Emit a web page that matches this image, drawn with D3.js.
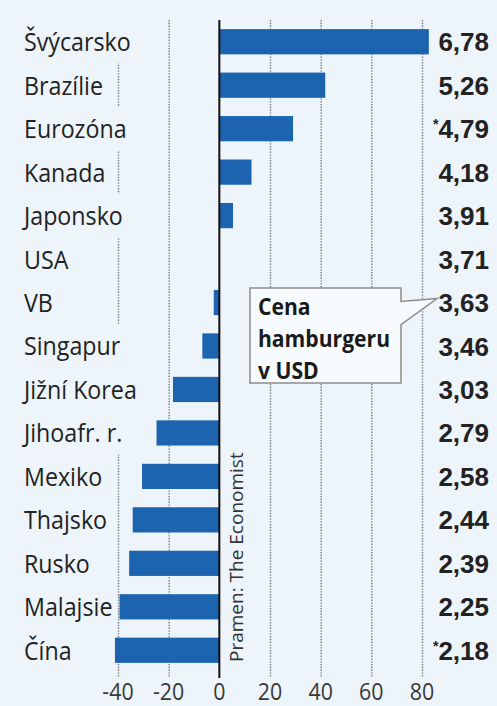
<!DOCTYPE html>
<html lang="cs">
<head>
<meta charset="UTF-8">
<title>Big Mac</title>
<script src="https://d3js.org/d3.v7.min.js"></script>
<style>
  body { margin: 0; background: #edf4fa; }
  svg { display: block; }
</style>
</head>
<body>
<script>
// zeme, cena hamburgeru v USD a odchylka od USA v %
const countries = ["Švýcarsko", "Brazílie", "Eurozóna", "Kanada", "Japonsko", "USA", "VB", "Singapur",
  "Jižní Korea", "Jihoafr. r.", "Mexiko", "Thajsko", "Rusko", "Malajsie", "Čína"];
const prices = ["6,78", "5,26", "4,79", "4,18", "3,91", "3,71", "3,63", "3,46",
  "3,03", "2,79", "2,58", "2,44", "2,39", "2,25", "2,18"];
const starred = ["Eurozóna", "Čína"];
const deviation = [82.7, 41.8, 29.1, 12.7, 5.4, 0, -2.2, -6.7, -18.3, -24.8, -30.5, -34.2, -35.6, -39.4, -41.2];
const ticks = [-40, -20, 0, 20, 40, 60, 80];

const W = 497, H = 706;
const bg = "#edf4fa";
const sx = 0.93; // zuzeni pisma

const svg = d3.select("body").append("svg").attr("width", W).attr("height", H);
svg.append("rect").attr("width", W).attr("height", H).attr("fill", bg);

const x = d3.scaleLinear().domain([-40, 80]).range([118, 422]);
const y = d3.scaleBand().domain(countries).range([20, 672]).paddingInner(0.42).paddingOuter(0.21);
const step = y.step();
const rowMid = c => y(c) + y.bandwidth() / 2;

// mrizka
svg.append("g").selectAll("line")
  .data(ticks.filter(t => t !== 0))
  .join("line")
  .attr("x1", d => x(d) + 0.5).attr("x2", d => x(d) + 0.5)
  .attr("y1", 20).attr("y2", 677)
  .attr("stroke", "#737a82").attr("stroke-width", 1.4)
  .attr("stroke-dasharray", "1.4,1.4");

// popisky zemi (s podkladem, ktery prekryva mrizku)
const lab = svg.append("g").attr("transform", `scale(${sx},1)`);
countries.forEach(c => {
  const gg = lab.append("g");
  const r = gg.append("rect").attr("fill", bg);
  const t = gg.append("text")
    .attr("x", 24 / sx).attr("y", rowMid(c) + 9.5)
    .attr("font-family", "'Open Sans', sans-serif").attr("font-size", 25)
    .attr("fill", "#222").text(c);
  const w = t.node().getComputedTextLength();
  r.attr("x", 24 / sx - 3).attr("width", w + 8)
    .attr("y", rowMid(c) - step / 2).attr("height", step);
});

// sloupce
svg.append("g").selectAll("rect")
  .data(countries)
  .join("rect")
  .attr("x", (d, i) => x(Math.min(0, deviation[i])))
  .attr("width", (d, i) => Math.abs(x(deviation[i]) - x(0)))
  .attr("y", d => y(d))
  .attr("height", y.bandwidth())
  .attr("fill", "#1c63b0");

// osa nula
svg.append("line")
  .attr("x1", x(0)).attr("x2", x(0)).attr("y1", 20).attr("y2", 678)
  .attr("stroke", "#111").attr("stroke-width", 2);

// popisky osy x
const ax = svg.append("g").attr("transform", `scale(${sx},1)`);
ax.selectAll("text")
  .data(ticks)
  .join("text")
  .attr("x", d => x(d) / sx).attr("y", 700)
  .attr("text-anchor", "middle")
  .attr("font-family", "'Open Sans', sans-serif").attr("font-size", 23)
  .attr("fill", "#3a3a3a")
  .text(d => d);

// ceny vpravo
const vals = svg.append("g");
countries.forEach((c, i) => {
  const t = vals.append("text")
    .attr("x", 489).attr("y", rowMid(c) + 9.5)
    .attr("text-anchor", "end")
    .attr("font-family", "'Liberation Sans', Arial, sans-serif")
    .attr("font-weight", "bold").attr("font-size", 26)
    .attr("fill", "#222");
  if (starred.includes(c)) {
    t.append("tspan").attr("font-size", 14).attr("dy", -9).text("*");
    t.append("tspan").attr("dy", 9).text(prices[i]);
  } else {
    t.text(prices[i]);
  }
});

// zdroj
svg.append("text")
  .attr("transform", `translate(243,662) rotate(-90)`)
  .attr("font-family", "'Open Sans', sans-serif").attr("font-size", 19)
  .attr("fill", "#333")
  .text("Pramen: The Economist");

// bublina s legendou
const vb = rowMid("VB");
svg.append("path")
  .attr("d", `M250,288 H401 V${vb - 1} L437,${vb - 4} L401,${vb + 22} V383 H250 Z`)
  .attr("fill", "#f8fbfd").attr("stroke", "#8c8c8c").attr("stroke-width", 1.5);
const nsx = 0.88;
const note = svg.append("g").attr("transform", `scale(${nsx},1)`);
["Cena", "hamburgeru", "v USD"].forEach((s, i) => {
  note.append("text")
    .attr("x", 258 / nsx).attr("y", 315 + i * 32)
    .attr("font-family", "'Open Sans', sans-serif").attr("font-weight", "bold")
    .attr("font-size", 24).attr("fill", "#1a1a1a")
    .text(s);
});
</script>
</body>
</html>
